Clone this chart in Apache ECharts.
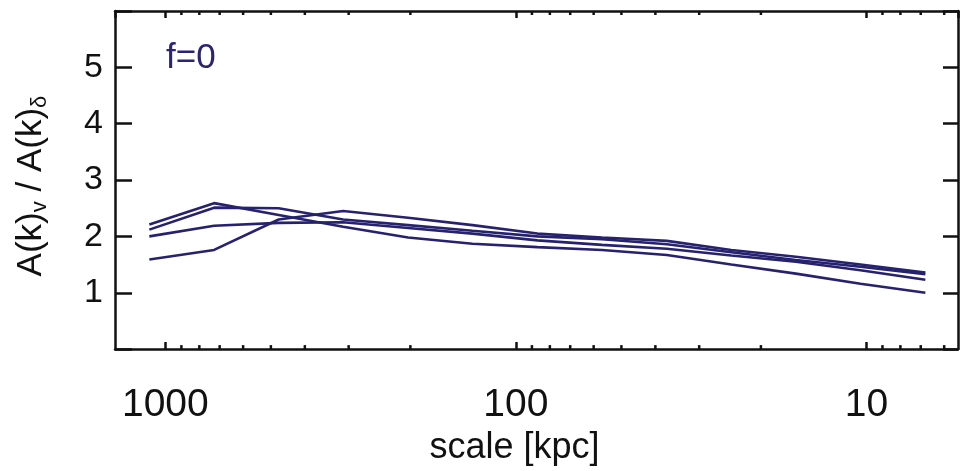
<!DOCTYPE html>
<html>
<head>
<meta charset="utf-8">
<script src="https://cdn.jsdelivr.net/npm/echarts@6/dist/echarts.min.js"></script>
<style>
html,body{margin:0;padding:0;background:#fff;}
#chart{width:974px;height:471px;}
</style>
</head>
<body>
<div id="chart"></div>
<script>
// scale [kpc] at each point (x values)
const scales = [1111, 726, 475, 311, 203, 133, 86.8, 56.8, 37.1, 24.3, 15.9, 10.4, 6.79];
// A(k)_v / A(k)_delta for the four curves
const lineA = [2.21, 2.59, 2.38, 2.17, 1.98, 1.87, 1.81, 1.76, 1.67, 1.50, 1.34, 1.16, 1.00];
const lineB = [2.12, 2.51, 2.50, 2.30, 2.20, 2.10, 2.00, 1.95, 1.86, 1.72, 1.58, 1.46, 1.33];
const lineC = [2.00, 2.19, 2.24, 2.25, 2.15, 2.05, 1.93, 1.85, 1.78, 1.66, 1.55, 1.40, 1.23];
const lineD = [1.59, 1.76, 2.30, 2.45, 2.33, 2.20, 2.05, 1.98, 1.92, 1.76, 1.64, 1.50, 1.36];
const xMajorTicks = [1000, 100, 10];
const xMinorTicks = [900, 800, 700, 600, 500, 400, 300, 200, 90, 80, 70, 60, 50, 40, 30, 20, 9, 8, 7, 6];
const yTickLabels = [1, 2, 3, 4, 5];
const panelLabel = 'f=0';

const FONT = '"Liberation Sans", Arial, Helvetica, sans-serif';
const LINE_COLOR = '#26226f';
const AXIS_COLOR = '#111';
const X_MIN = 5.48, X_MAX = 1392, Y_MIN = 0, Y_MAX = 6;

const chart = echarts.init(document.getElementById('chart'), null, {renderer: 'canvas'});

function mkLine(vals, name) {
  return {
    type: 'line', name: name, xAxisIndex: 0, yAxisIndex: 0,
    data: scales.map((s, i) => [s, vals[i]]),
    showSymbol: false, symbol: 'none',
    lineStyle: {color: LINE_COLOR, width: 2.6},
    itemStyle: {color: LINE_COLOR},
    animation: false, silent: true, z: 3
  };
}

const xAxisCommon = {
  type: 'log', logBase: 10, min: X_MIN, max: X_MAX, inverse: true,
  axisLine: {show: true, onZero: false, lineStyle: {color: AXIS_COLOR, width: 2.5}},
  axisTick: {show: true, inside: true, length: 7, lineStyle: {color: AXIS_COLOR, width: 2.5}},
  splitLine: {show: false},
  minorTick: {show: false}
};

const yAxisCommon = {
  type: 'value', min: Y_MIN, max: Y_MAX, interval: 1,
  axisLine: {show: true, onZero: false, lineStyle: {color: AXIS_COLOR, width: 2.5}},
  splitLine: {show: false}
};

const option = {
  backgroundColor: '#fff',
  animation: false,
  grid: {left: 115, top: 11, right: 16, bottom: 118, containLabel: false},
  xAxis: [
    Object.assign({}, xAxisCommon, {
      position: 'bottom',
      name: 'scale [kpc]', nameLocation: 'middle', nameGap: 78,
      nameTextStyle: {fontFamily: FONT, fontSize: 36, color: AXIS_COLOR, padding: [0, 44, 0, 0]},
      axisLabel: {
        show: true, margin: 37, fontFamily: FONT, fontSize: 39, color: AXIS_COLOR,
        showMinLabel: false, showMaxLabel: false,
        formatter: function (v) {
          const r = xMajorTicks.find(t => Math.abs(t - v) / t < 1e-6);
          return r ? String(r) : '';
        }
      }
    }),
    Object.assign({}, xAxisCommon, {
      position: 'top',
      axisLabel: {show: false}
    })
  ],
  yAxis: [
    Object.assign({}, yAxisCommon, {
      position: 'left',
      name: '{m|A(k)}{s|v}{m| / A(k)}{s|δ}',
      nameLocation: 'middle', nameGap: 64,
      nameTextStyle: {
        fontFamily: FONT, color: AXIS_COLOR, padding: [0, 12, 0, 0],
        rich: {
          m: {fontFamily: FONT, fontSize: 35, color: AXIS_COLOR, lineHeight: 40},
          s: {fontFamily: FONT, fontSize: 22, color: AXIS_COLOR, verticalAlign: 'bottom', padding: [18, 0, 0, 0], lineHeight: 22}
        }
      },
      axisTick: {show: true, inside: true, length: 17, lineStyle: {color: AXIS_COLOR, width: 2.5}},
      axisLabel: {
        show: true, margin: 12, fontFamily: FONT, fontSize: 34, color: AXIS_COLOR,
        formatter: function (v) { return yTickLabels.indexOf(v) >= 0 ? String(v) : ''; }
      }
    }),
    Object.assign({}, yAxisCommon, {
      position: 'right',
      axisTick: {show: true, inside: true, length: 15, lineStyle: {color: AXIS_COLOR, width: 2.5}},
      axisLabel: {show: false}
    })
  ],
  graphic: [{
    type: 'text', left: 166, top: 41, z: 10,
    style: {text: panelLabel, fontFamily: FONT, fontSize: 35, fill: '#2a2473'}
  }],
  series: [
    mkLine(lineA, 'a'), mkLine(lineB, 'b'), mkLine(lineC, 'c'), mkLine(lineD, 'd'),
    {
      type: 'custom', xAxisIndex: 0, yAxisIndex: 0, clip: false, silent: true, z: 5,
      data: xMinorTicks.map(v => [v]),
      renderItem: function (params, api) {
        const v = api.value(0);
        const b = api.coord([v, Y_MIN]);
        const t = api.coord([v, Y_MAX]);
        const st = {stroke: AXIS_COLOR, lineWidth: 2.5};
        return {
          type: 'group',
          children: [
            {type: 'line', shape: {x1: b[0], y1: b[1], x2: b[0], y2: b[1] - 4}, style: st},
            {type: 'line', shape: {x1: t[0], y1: t[1], x2: t[0], y2: t[1] + 4}, style: st}
          ]
        };
      }
    }
  ]
};

chart.setOption(option);
</script>
</body>
</html>
